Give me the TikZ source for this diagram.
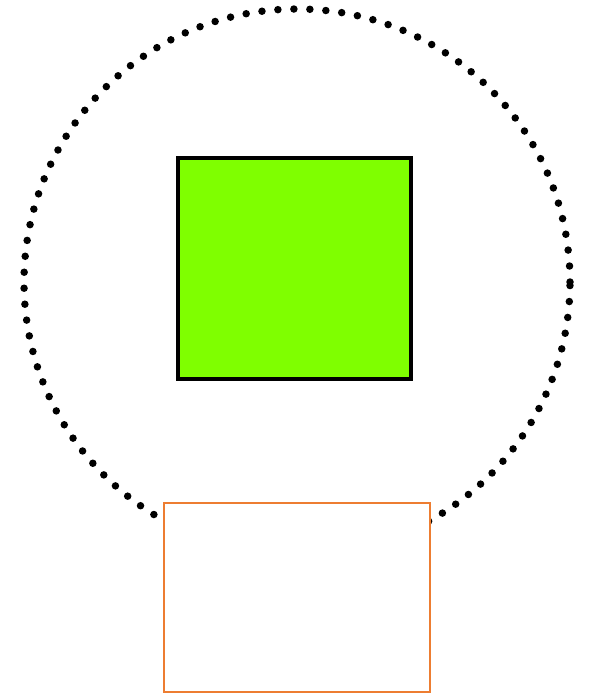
\documentclass[tikz,border=0pt]{standalone}
\definecolor{chart}{HTML}{7FFF00}
\definecolor{boxorange}{HTML}{ED7D31}
\begin{document}
\begin{tikzpicture}[x=1pt,y=-1pt,
  dotring/.style={draw=black,line width=7.5pt,line cap=round,dash pattern=on 0pt off 16pt},
  greenbox/.style={draw=black,line width=4pt,fill=chart,minimum width=233pt,minimum height=221pt,inner sep=0pt,outer sep=0pt},
  orangebox/.style={draw=boxorange,line width=2.5pt,fill=white,minimum width=266pt,minimum height=189pt,inner sep=0pt,outer sep=0pt}]
\useasboundingbox (0,0) rectangle (589,697);
\node[circle,dotring,minimum size=546pt,inner sep=0pt] (ring) at (297,282) {};
\node[greenbox] (green) at (294.5,268.5) {};
\node[orangebox] (orange) at (297,597.5) {};
\end{tikzpicture}
\end{document}
